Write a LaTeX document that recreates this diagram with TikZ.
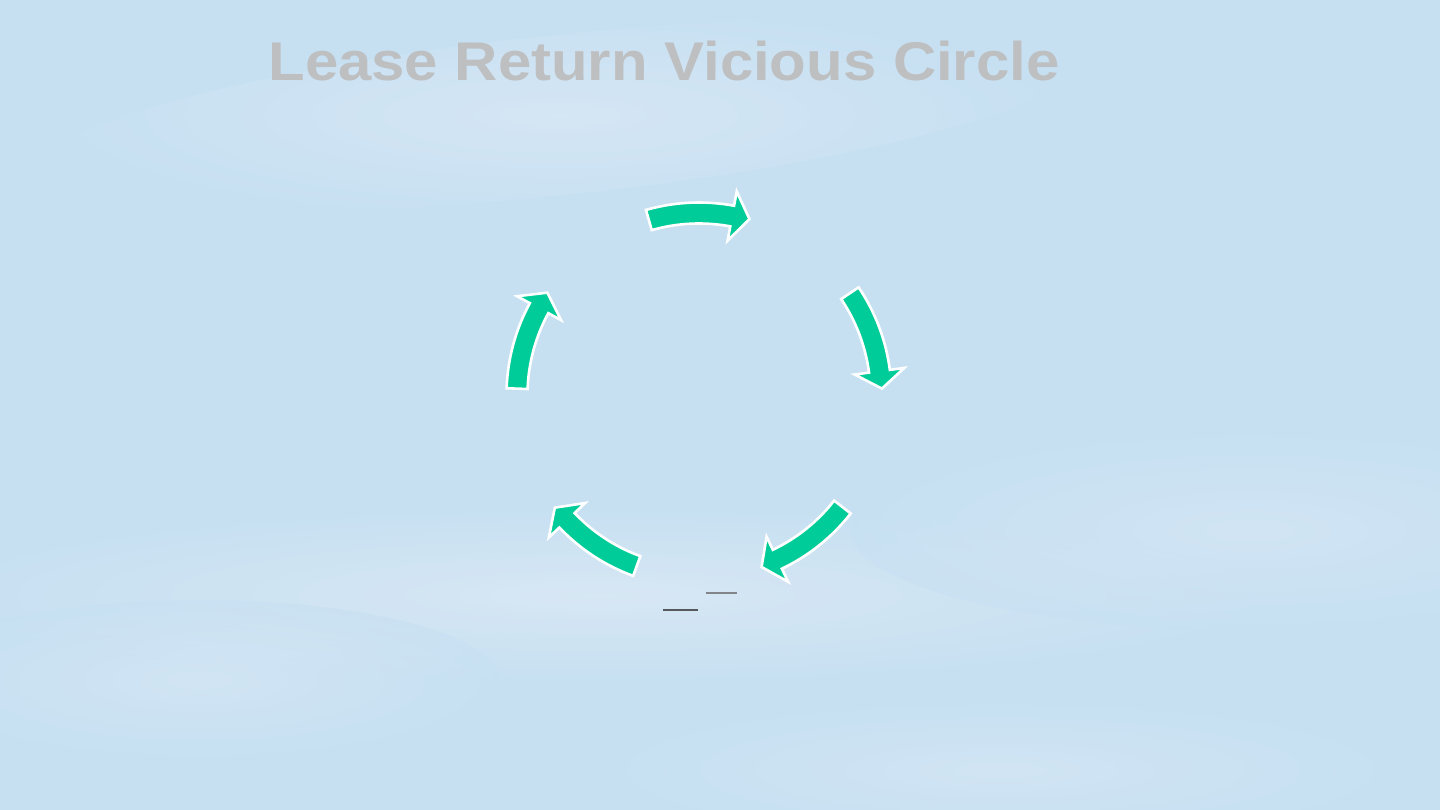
\documentclass[tikz,border=0pt]{standalone}
\usepackage{fontspec}
\setmainfont{Liberation Sans}
\definecolor{skybg}{RGB}{198,224,242}
\definecolor{haze}{RGB}{220,233,245}
\definecolor{cycgreen}{RGB}{0,204,153}
\definecolor{titlegray}{RGB}{190,191,193}
\definecolor{lineA}{RGB}{85,88,92}
\definecolor{lineB}{RGB}{130,134,138}
\tikzset{
  cyc/.style={fill=cycgreen, draw=white, line width=2.6pt, line join=miter},
  titletext/.style={font=\bfseries\fontsize{54.5}{66}\selectfont, text=titlegray, inner sep=0pt, anchor=base},
  stubline/.style={line width=#1}
}
\begin{document}
\begin{tikzpicture}[x=1pt,y=1pt]
\useasboundingbox (0,0) rectangle (1440,810);
% sky background
\fill[skybg] (0,0) rectangle (1440,810);
\begin{scope}
\clip (0,0) rectangle (1440,810);
\shade[inner color=haze, outer color=skybg, opacity=0.7, rotate around={6:(560,695)}] (560,695) ellipse [x radius=520, y radius=80];
\shade[inner color=haze, outer color=skybg, opacity=0.8] (600,215) ellipse [x radius=700, y radius=90];
\shade[inner color=haze, outer color=skybg, opacity=0.5] (1250,280) ellipse [x radius=400, y radius=100];
\shade[inner color=haze, outer color=skybg, opacity=0.5] (1000,40) ellipse [x radius=400, y radius=70];
\shade[inner color=haze, outer color=skybg, opacity=0.5] (200,130) ellipse [x radius=300, y radius=80];
\end{scope}
% title
\node[titletext] (title) at (664,729.5) {\scalebox{1.099}[1]{Lease Return Vicious Circle}};
% cycle arrows
\begin{scope}[shift={(699,415)}]
\coordinate (hub) at (0,0);
\foreach \cc in {90,18,-54,-126,-198}{
  \pgfmathsetmacro\cyA{\cc+16}
  \pgfmathsetmacro\cyB{\cc-10.5}
  \pgfmathsetmacro\cyC{\cc-16}
  \draw[cyc] (\cyA:192.5) arc[start angle=\cyA, end angle=\cyB, radius=192.5]
     -- (\cyB:207) -- (\cyC:183) -- (\cyB:157) -- (\cyB:171.5)
     arc[start angle=\cyB, end angle=\cyA, radius=171.5] -- cycle;
}
\end{scope}
% small stub lines
\coordinate (s1a) at (663,200);
\coordinate (s1b) at (698,200);
\coordinate (s2a) at (706,217);
\coordinate (s2b) at (737,217);
\draw[lineA, stubline=1.3pt] (s1a) -- (s1b);
\draw[lineB, stubline=1.8pt] (s2a) -- (s2b);
\end{tikzpicture}
\end{document}
